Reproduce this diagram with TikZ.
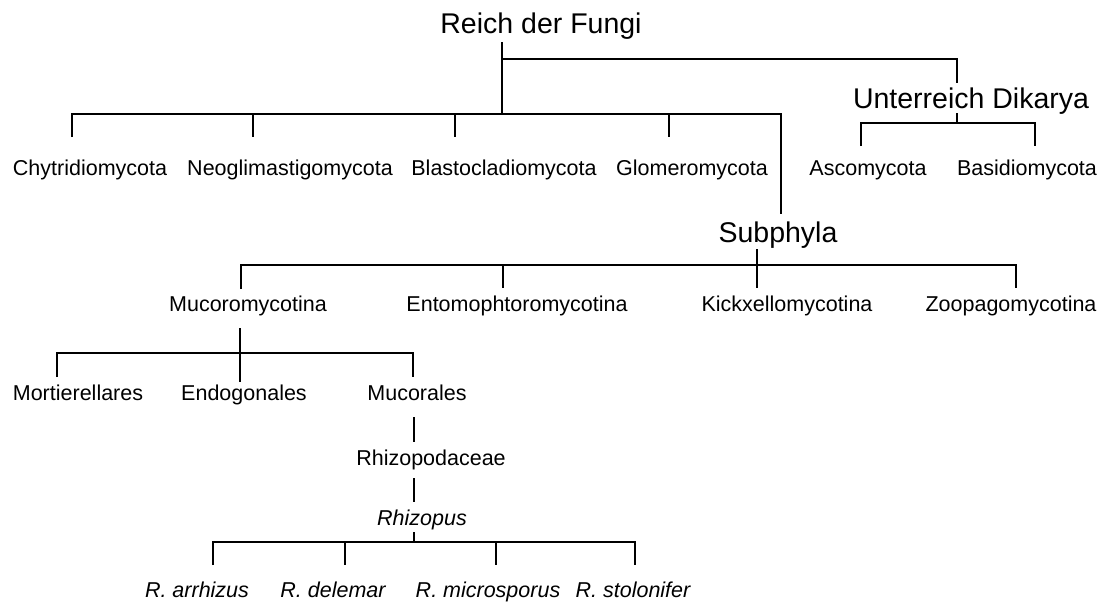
\documentclass[tikz,border=0pt]{standalone}
\usepackage{fontspec}
\setmainfont{Liberation Sans}
\begin{document}
\begin{tikzpicture}[x=1pt,y=-1pt,
  conn/.style={line width=1.9pt, line join=miter},
  big/.style={font=\fontsize{28.5}{30}\selectfont, inner sep=0pt, anchor=base},
  lab/.style={font=\fontsize{21.5}{24}\selectfont, inner sep=0pt, anchor=base},
  ital/.style={font=\fontsize{21.5}{24}\selectfont\itshape, inner sep=0pt, anchor=base}]
\useasboundingbox (0,0) rectangle (1110,603);

% texts
\node[big] (root) at (541,33) {Reich der Fungi};
\node[big] (dik) at (971,108) {Unterreich Dikarya};
\node[lab] (chy) at (90,175) {Chytridiomycota};
\node[lab] (neo) at (290,175) {Neoglimastigomycota};
\node[lab] (bla) at (504,175) {Blastocladiomycota};
\node[lab] (glo) at (692,175) {Glomeromycota};
\node[lab] (asc) at (868,175) {Ascomycota};
\node[lab] (bas) at (1027,175) {Basidiomycota};
\node[big] (sub) at (778,242) {Subphyla};
\node[lab] (muc) at (248,311) {Mucoromycotina};
\node[lab] (ent) at (517,311) {Entomophtoromycotina};
\node[lab] (kic) at (787,311) {Kickxellomycotina};
\node[lab] (zoo) at (1011,311) {Zoopagomycotina};
\node[lab] (mor) at (78,400) {Mortierellares};
\node[lab] (end) at (244,400) {Endogonales};
\node[lab] (mcr) at (417,400) {Mucorales};
\node[lab] (rhz) at (431,465) {Rhizopodaceae};
\node[ital] (rhi) at (422,525) {Rhizopus};
\node[ital] (arr) at (197,597) {R. arrhizus};
\node[ital] (del) at (333,597) {R. delemar};
\node[ital] (mic) at (488,597) {R. microsporus};
\node[ital] (sto) at (633,597) {R. stolonifer};

% root
\draw[conn] (502,42) -- (502,114);
\draw[conn] (502,59) -- (957,59) -- (957,83);
% Dikarya
\draw[conn] (957,113) -- (957,123);
\draw[conn] (861,146) -- (861,123) -- (1035,123) -- (1035,146);
% phyla bar
\draw[conn] (72,137) -- (72,114) -- (781,114) -- (781,214);
\foreach \x in {253,455,669} \draw[conn] (\x,114) -- (\x,137);
% subphyla
\draw[conn] (757,249) -- (757,288);
\draw[conn] (241,289) -- (241,265) -- (1016,265) -- (1016,288);
\draw[conn] (503,265) -- (503,288);
% Mucoromycotina
\draw[conn] (240,328) -- (240,382);
\draw[conn] (57,377) -- (57,353) -- (413,353) -- (413,377);
% Mucorales chain
\draw[conn] (414,417) -- (414,442);
\draw[conn] (414,478) -- (414,502);
\draw[conn] (414,532) -- (414,542);
\draw[conn] (213,565) -- (213,542) -- (635,542) -- (635,565);
\foreach \x in {345,496} \draw[conn] (\x,542) -- (\x,565);
\end{tikzpicture}
\end{document}
